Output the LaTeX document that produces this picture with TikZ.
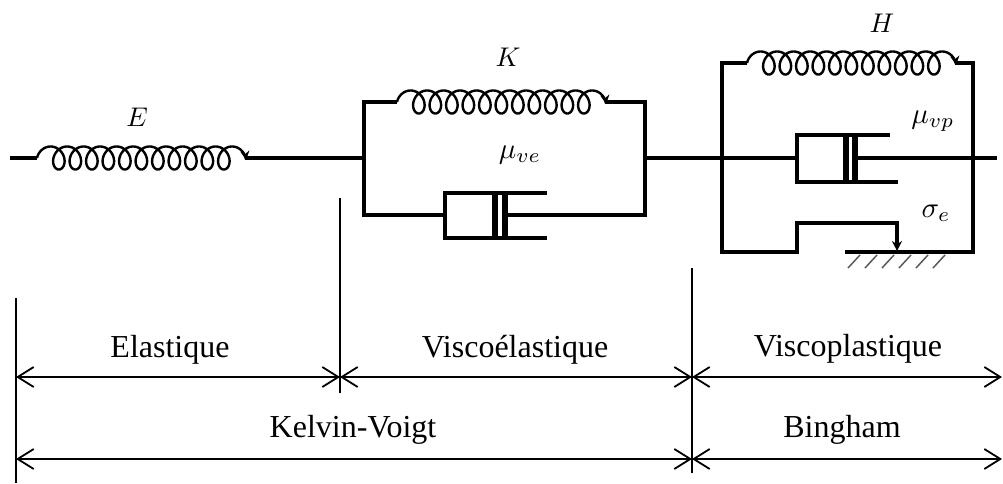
\documentclass[tikz,border=0pt]{standalone}
\usepackage{fontspec}
\setmainfont{Liberation Serif}
\usetikzlibrary{arrows.meta}
\newcommand{\coilspring}[2]{%
  \draw[springline,-{Stealth[length=9pt,width=9pt]}]
    plot[domain=-90:4060,samples=700,variable=\t]
    ({#1+\t/360*16.5+9.5*sin(\t)},{#2-11.5*cos(\t)});}
\begin{document}
\begin{tikzpicture}[x=1pt,y=-1pt,
  frame/.style={line width=4pt, line join=miter},
  springline/.style={line width=2.4pt, line join=round},
  pistonbar/.style={line width=6pt},
  hatchline/.style={line width=1.5pt, black!65},
  dim/.style={line width=1.8pt},
  dimarrow/.style={dim,
    {Straight Barb[length=16pt,width=20pt,line width=1.8pt]}-{Straight Barb[length=16pt,width=20pt,line width=1.8pt]}},
  lbl/.style={font=\fontsize{32}{36}\selectfont, anchor=base, inner sep=0pt},
  mlbl/.style={inner sep=0pt, scale=2.7},
  slbl/.style={inner sep=0pt, scale=2.9}]
\useasboundingbox (0,0) rectangle (1003,484);

% ---------- Elastic spring E ----------
\coordinate (Ein) at (10,158);
\coordinate (Es) at (37,158);
\coordinate (Ee) at (245,158);
\coordinate (KVl) at (364,158);
\draw[frame] (Ein) -- (Es);
\coilspring{50.6}{158}
\draw[frame] (Ee) -- (KVl);
\node[mlbl, anchor=base] (lE) at (137,127) {$E$};

% ---------- Kelvin-Voigt ----------
\draw[frame] (397,102) -- (364,102) -- (364,215) -- (445,215);
\coilspring{410.6}{102}
\draw[frame] (605,102) -- (645,102) -- (645,215) -- (505,215);
\draw[frame] (547,193) -- (445,193) -- (445,238) -- (547,238);
\draw[pistonbar] (495,193) -- (495,239);
\draw[pistonbar] (505,193) -- (505,239);
\node[mlbl, anchor=base] (lK) at (508,67) {$K$};
\node[slbl] (lmuve) at (520,155) {$\mu_{ve}$};

% ---------- Bingham ----------
\coordinate (KVr) at (645,158);
\coordinate (Bcyl) at (797,158);
\draw[frame] (KVr) -- (Bcyl);
\draw[frame] (747,63) -- (722,63) -- (722,252) -- (797,252) -- (797,223) -- (897,223)
  -- (897,244);
\draw[line width=3pt, -{Stealth[length=10pt,width=10pt]}] (897,238) -- (897,251);
\coilspring{760.6}{63}
\draw[frame] (955,63) -- (973,63) -- (973,252) -- (845,252);
\draw[frame] (890,135) -- (797,135) -- (797,182) -- (898,182);
\draw[pistonbar] (845.5,135) -- (845.5,183);
\draw[pistonbar] (855,135) -- (855,183);
\draw[frame] (855,158) -- (997,158);
\foreach \i in {0,...,5}
  \draw[hatchline] (860+17*\i,255) -- (848+17*\i,268);
\node[mlbl, anchor=base] (lH) at (882,33) {$H$};
\node[slbl] (lmuvp) at (933,121) {$\mu_{vp}$};
\node[slbl] (lsig) at (936,213) {$\sigma_e$};

% ---------- dimension lines ----------
\coordinate (v1t) at (16,298);  \coordinate (v1b) at (16,483);
\coordinate (v2t) at (340,198); \coordinate (v2b) at (340,393);
\coordinate (v3t) at (692,268); \coordinate (v3b) at (692,473);
\draw[dim] (v1t) -- (v1b);
\draw[dim] (v2t) -- (v2b);
\draw[dim] (v3t) -- (v3b);
\coordinate (a1) at (16,377);  \coordinate (a2) at (340,377);
\coordinate (a3) at (692,377); \coordinate (a4) at (1002,377);
\coordinate (b1) at (16,459);  \coordinate (b2) at (692,459);
\coordinate (b3) at (1002,459);
\draw[dimarrow] (a1) -- (a2);
\draw[dimarrow] (a2) -- (a3);
\draw[dimarrow] (a3) -- (a4);
\draw[dimarrow] (b1) -- (b2);
\draw[dimarrow] (b2) -- (b3);
\node[lbl] (tEl) at (170,357) {Elastique};
\node[lbl] (tVe) at (515,357) {Viscoélastique};
\node[lbl] (tVp) at (848,356) {Viscoplastique};
\node[lbl] (tKV) at (353,437) {Kelvin-Voigt};
\node[lbl] (tBi) at (842,437) {Bingham};
\end{tikzpicture}
\end{document}
